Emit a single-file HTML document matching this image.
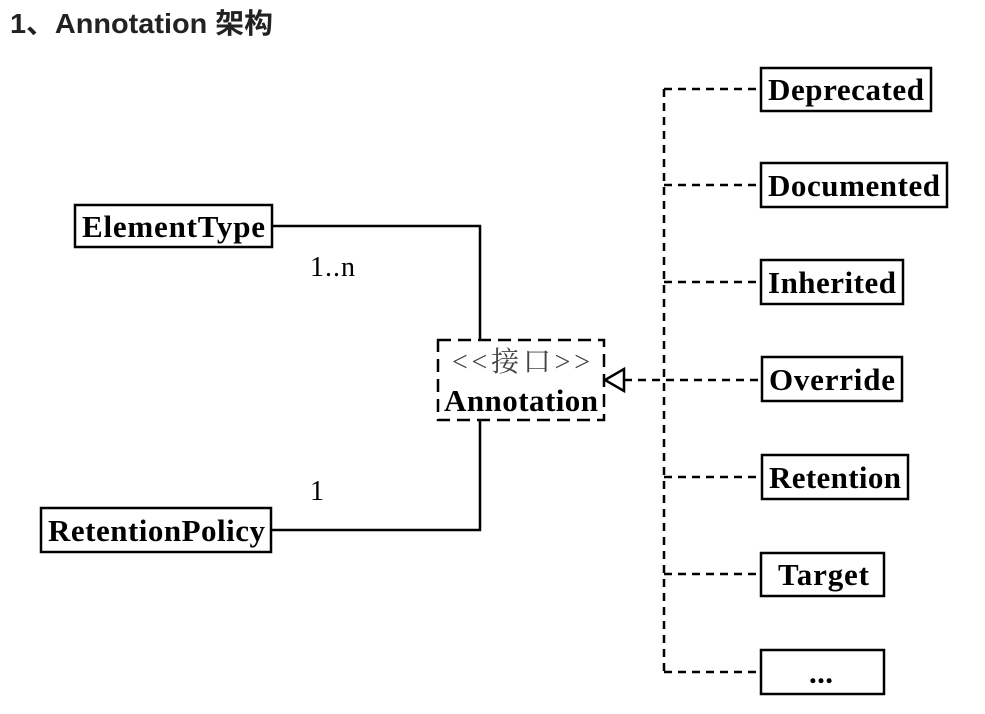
<!DOCTYPE html>
<html><head><meta charset="utf-8"><style>
body{margin:0;background:#fff;width:985px;height:709px;overflow:hidden}
</style></head><body>
<svg width="985" height="709" xmlns="http://www.w3.org/2000/svg">
<text x="10" y="33" font-family="Liberation Sans, Noto Sans CJK SC, sans-serif" font-weight="bold" font-size="28" fill="#222" textLength="263" lengthAdjust="spacingAndGlyphs">1、Annotation 架构</text>
<g font-family="Liberation Serif, Noto Serif CJK SC, serif" font-weight="bold" font-size="31" fill="#000" lengthAdjust="spacingAndGlyphs">
<g fill="none" stroke="#000" stroke-width="2.5">
<rect x="75" y="205" width="197" height="42"/>
<rect x="41" y="508" width="230" height="44"/>
<rect x="761" y="68" width="170" height="43"/>
<rect x="761" y="163" width="186" height="44"/>
<rect x="761" y="260" width="142" height="44"/>
<rect x="762" y="357" width="140" height="44"/>
<rect x="762" y="455" width="146" height="44"/>
<rect x="761" y="553" width="123" height="43"/>
<rect x="761" y="650" width="123" height="44"/>
<polyline points="272,226 480,226 480,340"/>
<polyline points="271,530 480,530 480,420"/>
<rect x="438" y="340" width="166" height="80" stroke-dasharray="13,7"/>
<g stroke-dasharray="8,6">
<line x1="664" y1="89" x2="664" y2="672"/>
<line x1="664" y1="89" x2="761" y2="89"/>
<line x1="664" y1="185" x2="761" y2="185"/>
<line x1="664" y1="282" x2="761" y2="282"/>
<line x1="624" y1="380" x2="762" y2="380"/>
<line x1="664" y1="477" x2="762" y2="477"/>
<line x1="664" y1="574" x2="761" y2="574"/>
<line x1="664" y1="672" x2="761" y2="672"/>
</g>
<polygon points="605,380 624,369 624,391" fill="#fff"/>
</g>
<text x="82" y="237" textLength="183">ElementType</text>
<text x="48" y="541" textLength="217">RetentionPolicy</text>
<text x="768" y="100" textLength="156">Deprecated</text>
<text x="768" y="196" textLength="172">Documented</text>
<text x="768" y="293" textLength="128">Inherited</text>
<text x="769" y="390" textLength="126">Override</text>
<text x="769" y="488" textLength="132">Retention</text>
<text x="778" y="585" textLength="91">Target</text>
<text x="809" y="683" textLength="24">...</text>
<text x="444" y="411" textLength="154">Annotation</text>
<text x="452" y="371" font-weight="normal" fill="#444" font-size="28" textLength="138">&lt;&lt;接口&gt;&gt;</text>
<text x="310" y="276" font-weight="normal" font-size="28" textLength="45">1..n</text>
<text x="310" y="500" font-weight="normal" font-size="28" textLength="11">1</text>
</g>
</svg>
</body></html>
